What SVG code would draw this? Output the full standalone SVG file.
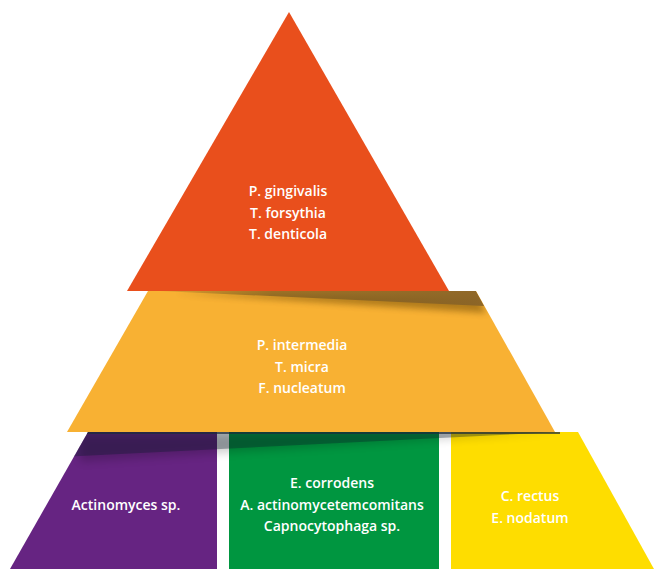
<svg xmlns="http://www.w3.org/2000/svg" width="654" height="569" viewBox="0 0 654 569">
  <defs>
    <style>
      .lbl { font-family: "Open Sans", "Liberation Sans", sans-serif; font-weight: 600; font-size: 14px; fill: #ffffff; text-anchor: middle; }
    </style>
    <filter id="blur3" x="-10%" y="-100%" width="120%" height="300%">
      <feGaussianBlur stdDeviation="3"/>
    </filter>
    <filter id="blur4" x="-10%" y="-100%" width="120%" height="300%">
      <feGaussianBlur stdDeviation="4"/>
    </filter>
    <clipPath id="midClip">
      <polygon points="148,291 476,291 555,432 67,432"/>
    </clipPath>
    <clipPath id="botClip">
      <polygon points="88,432 578,432 654,569 10,569"/>
    </clipPath>
    <linearGradient id="midBand" x1="0" y1="0" x2="1" y2="0">
      <stop offset="0" stop-color="#7a5a22" stop-opacity="0.15"/>
      <stop offset="0.35" stop-color="#7a5a22" stop-opacity="0.7"/>
      <stop offset="1" stop-color="#8a6428" stop-opacity="0.95"/>
    </linearGradient>
    <linearGradient id="gapGrad" x1="0" y1="0" x2="0" y2="1">
      <stop offset="0" stop-color="#ffffff"/>
      <stop offset="1" stop-color="#ffffff"/>
    </linearGradient>
  </defs>

  <g id="tier-bottom">
    <g id="node-actinomyces">
      <polygon points="88,432 217,432 217,569 10,569" fill="#662482"/>
      <text class="lbl" x="126" y="509.5">Actinomyces sp.</text>
    </g>
    <g id="node-green">
      <rect x="229" y="432" width="210" height="137" fill="#009640"/>
      <text class="lbl" x="332" y="488">E. corrodens</text>
      <text class="lbl" x="332" y="509.5">A. actinomycetemcomitans</text>
      <text class="lbl" x="332" y="531">Capnocytophaga sp.</text>
    </g>
    <g id="node-yellow">
      <polygon points="451,432 578,432 654,569 451,569" fill="#FEDD00"/>
      <text class="lbl" x="530" y="500.5">C. rectus</text>
      <text class="lbl" x="530" y="522.5">E. nodatum</text>
    </g>
    <g id="shadow-bottom" clip-path="url(#botClip)">
      <polygon points="80,436 560,432 80,462" fill="#000000" opacity="0.18" filter="url(#blur4)"/>
      <polygon points="60,432 560,432 60,457" fill="#0a1a2a" opacity="0.34"/>
      <rect x="60" y="432" width="500" height="2" fill="#1c2b3a" opacity="0.7"/>
    </g>
  </g>

  <g id="tier-middle">
    <g id="node-orange">
      <polygon points="148,291 476,291 555,432 67,432" fill="#F8B133"/>
      <g clip-path="url(#midClip)">
        <polygon points="175,293 478,297 486,313" fill="#5a3a00" opacity="0.45" filter="url(#blur3)"/>
        <polygon points="160,291 476,291 484,306" fill="url(#midBand)"/>
      </g>
      <text class="lbl" x="302" y="350">P. intermedia</text>
      <text class="lbl" x="302" y="371.5">T. micra</text>
      <text class="lbl" x="302" y="393">F. nucleatum</text>
    </g>
  </g>

  <g id="tier-top">
    <g id="node-red">
      <polygon points="289,12 127,291 449,291" fill="#E94F1C"/>
      <text class="lbl" x="288" y="196">P. gingivalis</text>
      <text class="lbl" x="288" y="217.5">T. forsythia</text>
      <text class="lbl" x="288" y="239">T. denticola</text>
    </g>
  </g>

  <g id="connectors"/>
</svg>
